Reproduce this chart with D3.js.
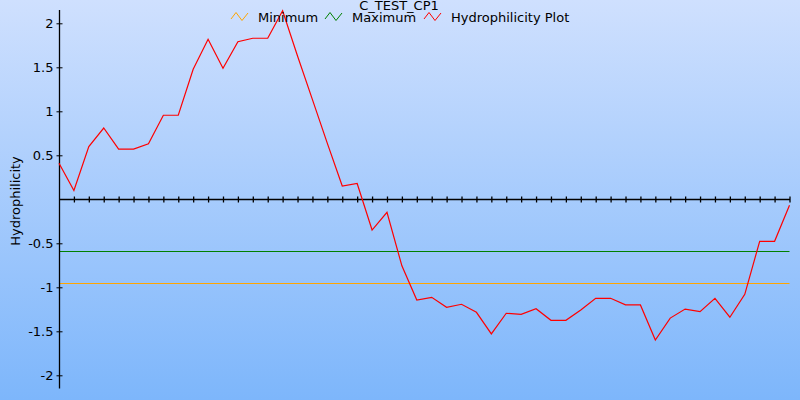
<!DOCTYPE html>
<html><head><meta charset="utf-8">
<script src="https://cdn.jsdelivr.net/npm/d3@7"></script>
<style>html,body{margin:0;padding:0;overflow:hidden;}svg{display:block;}</style>
</head><body>
<script>
const title = "C_TEST_CP1";
const yLabel = "Hydrophilicity";
const seriesNames = ["Minimum", "Maximum", "Hydrophilicity Plot"];
const seriesColors = ["#ffa500", "#008000", "#ff0000"];
const minimumValue = -0.955;
const maximumValue = -0.59;
const hydrophilicity = [0.41, 0.10, 0.60, 0.81, 0.57, 0.57, 0.63, 0.955, 0.955, 1.477,
  1.818, 1.489, 1.79, 1.83, 1.83, 2.143, 1.628, 1.133, 0.636, 0.151,
  0.18, -0.349, -0.148, -0.756, -1.144, -1.114, -1.227, -1.193, -1.284, -1.53,
  -1.295, -1.307, -1.243, -1.375, -1.375, -1.258, -1.125, -1.125, -1.2, -1.2,
  -1.6, -1.35, -1.247, -1.277, -1.125, -1.34, -1.08, -0.477, -0.477, -0.068];
const yTicks = [-2, -1.5, -1, -0.5, 0.5, 1, 1.5, 2];
const yDomain = [-2.15, 2.15];

const W = 800, H = 400;
const svg = d3.select("body").append("svg").attr("width", W).attr("height", H);
const defs = svg.append("defs");
const grad = defs.append("linearGradient").attr("id", "bg").attr("x1", 0).attr("y1", 0).attr("x2", 0).attr("y2", 1);
grad.append("stop").attr("offset", "0%").attr("stop-color", "#cfe0fe");
grad.append("stop").attr("offset", "100%").attr("stop-color", "#7db6fb");
svg.append("rect").attr("width", W).attr("height", H).attr("fill", "url(#bg)");

const x = d3.scaleLinear().domain([0, hydrophilicity.length - 1]).range([59, 789.5]);
const y = d3.scaleLinear().domain(yDomain).range([388.5, 10.1]);
const font = "'DejaVu Sans', sans-serif";

// threshold lines
svg.append("line").attr("x1", x(0)).attr("x2", x(hydrophilicity.length - 1))
  .attr("y1", Math.round(y(minimumValue)) + 0.5).attr("y2", Math.round(y(minimumValue)) + 0.5)
  .attr("stroke", seriesColors[0]).attr("stroke-width", 1);
svg.append("line").attr("x1", x(0)).attr("x2", x(hydrophilicity.length - 1))
  .attr("y1", Math.round(y(maximumValue)) + 0.5).attr("y2", Math.round(y(maximumValue)) + 0.5)
  .attr("stroke", seriesColors[1]).attr("stroke-width", 1);

// x axis at zero
const y0 = Math.round(y(0)) + 0.5;
const xAxis = d3.axisBottom(x).tickValues(d3.range(1, hydrophilicity.length)).tickSize(0).tickFormat("");
const gx = svg.append("g").attr("transform", `translate(0,${y0})`).call(xAxis);
gx.select(".domain").remove();
svg.append("line").attr("x1", 59.5).attr("x2", x(hydrophilicity.length - 1) + 0.5)
  .attr("y1", y0).attr("y2", y0).attr("stroke", "#000").attr("stroke-width", 1.3);
gx.selectAll(".tick").append("line").attr("y1", -3).attr("y2", 3).attr("stroke", "#000").attr("stroke-width", 1.3);

// y axis
const fmt = d => d3.format("~g")(d).replace("\u2212", "-");
const yAxis = d3.axisLeft(y).tickValues(yTicks).tickSize(0).tickPadding(6).tickFormat(fmt);
const gy = svg.append("g").attr("transform", "translate(59.5,0)").call(yAxis);
gy.select(".domain").attr("stroke", "#000").attr("stroke-width", 1.3).attr("d", `M0,${y(yDomain[1])}V${y(yDomain[0])}`);
gy.selectAll(".tick line").remove();
gy.selectAll(".tick").append("line").attr("x1", -3).attr("x2", 3).attr("stroke", "#000").attr("stroke-width", 1);
gy.selectAll(".tick text").attr("font-family", font).attr("font-size", 13).attr("fill", "#000");

// y label
svg.append("text").attr("transform", "translate(20,201) rotate(-90)").attr("text-anchor", "middle")
  .attr("font-family", font).attr("font-size", 13).attr("fill", "#000").text(yLabel);

// data line
const line = d3.line().x((d, i) => x(i)).y(d => y(d));
svg.append("path").datum(hydrophilicity).attr("d", line).attr("fill", "none")
  .attr("stroke", seriesColors[2]).attr("stroke-width", 1.2);

// title
svg.append("text").attr("x", 399).attr("y", 9.5).attr("text-anchor", "middle")
  .attr("font-family", font).attr("font-size", 13).attr("fill", "#000").text(title);

// legend
const legendX = [231, 325, 424];
seriesNames.forEach((name, i) => {
  const g = svg.append("g").attr("transform", `translate(${legendX[i]},0)`);
  g.append("path").attr("d", "M0,19 L5,12.5 L11,20.5 L17,13").attr("fill", "none")
    .attr("stroke", seriesColors[i]).attr("stroke-width", 1);
  g.append("text").attr("x", 27).attr("y", 22).attr("font-family", font).attr("font-size", 13)
    .attr("fill", "#000").text(name);
});
</script>
</body></html>
